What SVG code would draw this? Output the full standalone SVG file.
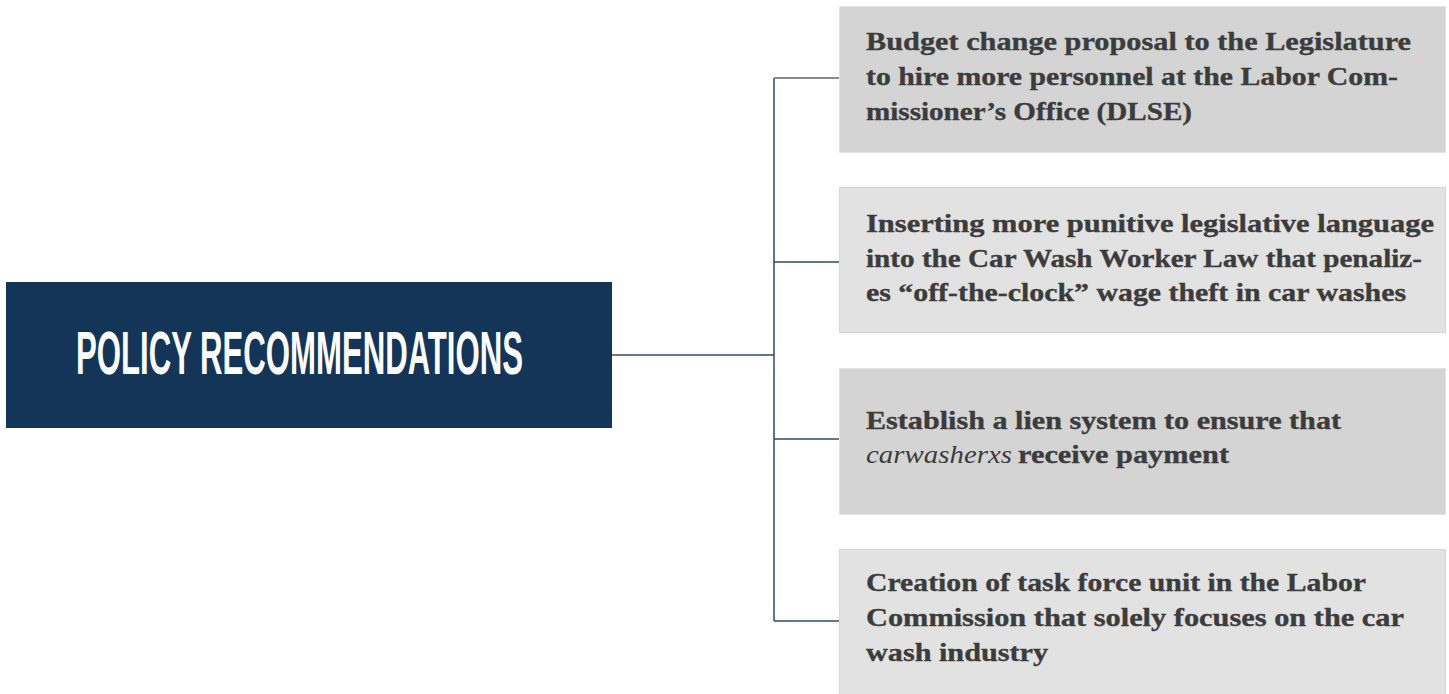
<svg xmlns="http://www.w3.org/2000/svg" width="1449" height="694" viewBox="0 0 1449 694">
<style>
.item{font-family:"Liberation Serif","DejaVu Serif",serif;font-weight:bold;font-size:26px;fill:#3c3c3c;stroke:#3c3c3c;stroke-width:0.35}
.it{font-style:italic;font-weight:normal;stroke-width:0}
.dark{fill:#d4d4d4;stroke:#e4e4e4;stroke-width:1}
.light{fill:#e2e2e2;stroke:#d8d8d8;stroke-width:1}
.conn{fill:none;stroke:#2c4a6e;stroke-width:1.5}
.title{font-family:"Liberation Sans","DejaVu Sans",sans-serif;font-weight:bold;font-size:61px;fill:#ffffff}
</style>
<rect width="1449" height="694" fill="#ffffff"/>
<g id="connectors">
<path class="conn" d="M612 355 H774 M774 78 V621 M774 262 H839 M774 439 H839 M774 621 H839"/>
<path d="M774 78 H839" fill="none" stroke="#8a8a8a" stroke-width="2"/>
</g>
<g id="main">
<rect x="6" y="282" width="606" height="146" fill="#133558"/>
<text class="title" x="76" y="374" textLength="447" lengthAdjust="spacingAndGlyphs">POLICY RECOMMENDATIONS</text>
</g>
<g id="rec1">
<rect class="dark" x="839.5" y="6.5" width="606" height="146"/>
<text class="item" x="866" y="50" textLength="545" lengthAdjust="spacingAndGlyphs">Budget change proposal to the Legislature</text>
<text class="item" x="866" y="85" textLength="532" lengthAdjust="spacingAndGlyphs">to hire more personnel at the Labor Com-</text>
<text class="item" x="866" y="120" textLength="326" lengthAdjust="spacingAndGlyphs">missioner’s Office (DLSE)</text>
</g>
<g id="rec2">
<rect class="light" x="839.5" y="187.5" width="606" height="145"/>
<text class="item" x="866" y="232" textLength="568" lengthAdjust="spacingAndGlyphs">Inserting more punitive legislative language</text>
<text class="item" x="866" y="267" textLength="556" lengthAdjust="spacingAndGlyphs">into the Car Wash Worker Law that penaliz-</text>
<text class="item" x="866" y="301" textLength="540" lengthAdjust="spacingAndGlyphs">es “off-the-clock” wage theft in car washes</text>
</g>
<g id="rec3">
<rect class="dark" x="839.5" y="368.5" width="606" height="146"/>
<text class="item" x="866" y="429" textLength="475" lengthAdjust="spacingAndGlyphs">Establish a lien system to ensure that</text>
<text class="item it" x="866" y="463" textLength="146" lengthAdjust="spacingAndGlyphs">carwasherxs</text>
<text class="item" x="1018" y="463" textLength="211" lengthAdjust="spacingAndGlyphs">receive payment</text>
</g>
<g id="rec4">
<rect class="light" x="839.5" y="549.5" width="606" height="150"/>
<text class="item" x="866" y="591" textLength="500" lengthAdjust="spacingAndGlyphs">Creation of task force unit in the Labor</text>
<text class="item" x="866" y="626" textLength="538" lengthAdjust="spacingAndGlyphs">Commission that solely focuses on the car</text>
<text class="item" x="866" y="661" textLength="182" lengthAdjust="spacingAndGlyphs">wash industry</text>
</g>
</svg>
